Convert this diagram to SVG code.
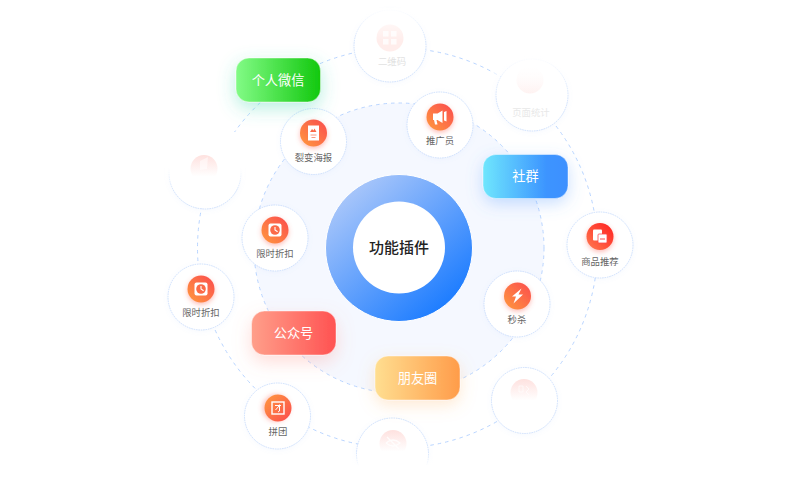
<svg xmlns="http://www.w3.org/2000/svg" xmlns:xlink="http://www.w3.org/1999/xlink" width="800" height="500" viewBox="0 0 800 500">
<style>
text{font-family:"Noto Sans CJK SC","Noto Sans",sans-serif;text-anchor:middle}
.ring{fill:none;stroke:#b9d5ff;stroke-width:1;stroke-dasharray:3.5 4}
.nc{fill:#fff;stroke:#c4d9fb;stroke-width:.8;stroke-dasharray:1.6 .8}
.lb{font-size:9.4px;fill:#666}
.lbf{font-size:9.4px;fill:#e2e2e2}
.tg{stroke:#fff;stroke-opacity:.55;stroke-width:.8}
.tt{font-size:13.2px;fill:#fff}
.w{fill:#fff}
</style>
<defs>
<linearGradient id="ringG" x1="0.15" y1="0.1" x2="0.85" y2="0.9"><stop offset="0" stop-color="#aac7fa"/><stop offset="1" stop-color="#1a7bff"/></linearGradient>
<linearGradient id="ic" x1="0" y1="1" x2="1" y2="0"><stop offset="0" stop-color="#ff9a3e"/><stop offset="1" stop-color="#fb4a4e"/></linearGradient>
<linearGradient id="ic2" x1="0" y1="1" x2="1" y2="0"><stop offset="0" stop-color="#ff7a50"/><stop offset="1" stop-color="#ff1f1f"/></linearGradient>
<linearGradient id="gWx" x1="0" y1="0" x2="1" y2="0"><stop offset="0" stop-color="#82fb86"/><stop offset="1" stop-color="#12c80e"/></linearGradient>
<linearGradient id="gSq" x1="0" y1="0" x2="1" y2="0"><stop offset="0" stop-color="#6fe6fd"/><stop offset=".75" stop-color="#3c94ff"/><stop offset="1" stop-color="#3c90ff"/></linearGradient>
<linearGradient id="gGz" x1="0" y1="0" x2="1" y2="0"><stop offset="0" stop-color="#ff9f8a"/><stop offset="1" stop-color="#ff5252"/></linearGradient>
<linearGradient id="gPy" x1="0" y1="0" x2="1" y2="0"><stop offset="0" stop-color="#ffde90"/><stop offset="1" stop-color="#ff9c4a"/></linearGradient>
<linearGradient id="fadeDown" x1="0" y1="0" x2="0" y2="1"><stop offset="0" stop-color="#fff" stop-opacity="0"/><stop offset="1" stop-color="#fff"/></linearGradient>
<linearGradient id="fadeUp" x1="0" y1="0" x2="0" y2="1"><stop offset="0" stop-color="#fff"/><stop offset="1" stop-color="#fff" stop-opacity="0"/></linearGradient>
<linearGradient id="iconFade" x1="0" y1="0" x2="0" y2="1"><stop offset="0" stop-color="#fb6a5e" stop-opacity=".2"/><stop offset=".8" stop-color="#fb6a5e" stop-opacity="0"/></linearGradient>
<linearGradient id="iconFade2" x1="0" y1="0" x2="0" y2="1"><stop offset="0" stop-color="#fb6a5e" stop-opacity="0"/><stop offset="1" stop-color="#fb6a5e" stop-opacity=".1"/></linearGradient>
<filter id="sh" x="-50%" y="-50%" width="200%" height="200%"><feDropShadow dx="0" dy="1" stdDeviation="2.5" flood-color="#7aa6f0" flood-opacity=".08"/></filter>
<filter id="icS" x="-50%" y="-50%" width="200%" height="200%"><feDropShadow dx="0" dy="2" stdDeviation="2.500" flood-color="#fb5a4a" flood-opacity=".4"/></filter>
<filter id="sG" x="-50%" y="-90%" width="200%" height="300%"><feDropShadow dx="0" dy="6" stdDeviation="9" flood-color="#3fd6b0" flood-opacity=".38"/></filter>
<filter id="sB" x="-50%" y="-90%" width="200%" height="300%"><feDropShadow dx="0" dy="5" stdDeviation="8" flood-color="#5a9cff" flood-opacity=".32"/></filter>
<filter id="sR" x="-50%" y="-90%" width="200%" height="300%"><feDropShadow dx="0" dy="7" stdDeviation="9" flood-color="#ff7a6a" flood-opacity=".26"/></filter>
<filter id="sO" x="-50%" y="-90%" width="200%" height="300%"><feDropShadow dx="0" dy="5" stdDeviation="8" flood-color="#ffb060" flood-opacity=".28"/></filter>
<g id="clock"><rect x="-6.500" y="-6.500" width="13" height="13" rx="2" class="w"/><circle r="4.800" fill="#fb6a48"/><path d="M0-3V0L2.600 1.800" fill="none" stroke="#fff" stroke-width="1.100"/></g>
</defs>
<rect width="800" height="500" fill="#fff"/>

<g id="connectors">
<circle cx="399" cy="248" r="145" fill="#f5f8ff" stroke="none"/>
<circle class="ring" cx="399" cy="248" r="145"/>
<circle class="ring" cx="397.500" cy="248" r="200"/>
</g>

<g id="core">
<circle cx="399" cy="248" r="73.500" fill="url(#ringG)" stroke="#fff" stroke-width="1"/>
<circle cx="399" cy="247.500" r="46" fill="#fff"/>
<text x="399" y="253" font-size="15px" font-weight="500" fill="#222">功能插件</text>
</g>

<g id="node-erweima">
<circle class="nc" cx="390" cy="46" r="36" filter="url(#sh)"/>
<circle cx="390" cy="38" r="13.500" fill="#fb6a5e" opacity=".12"/>
<g class="w" opacity=".8"><rect x="383" y="31" width="5.500" height="5.500"/><rect x="391" y="31" width="5.500" height="5.500"/><rect x="383" y="39" width="5.500" height="5.500"/><rect x="391" y="39" width="5.500" height="5.500"/></g>
<text class="lbf" x="392" y="65">二维码</text>
<rect x="350" y="8" width="80" height="34" fill="url(#fadeUp)"/>
</g>

<g id="node-yemian">
<circle class="nc" cx="532" cy="95" r="36" filter="url(#sh)"/>
<circle cx="530" cy="80" r="13.500" fill="url(#iconFade2)"/>
<text class="lbf" x="531" y="116" style="fill:#e8e8e8">页面统计</text>
<rect x="492" y="55" width="80" height="46" fill="url(#fadeUp)"/>
</g>

<g id="node-left-faded">
<circle class="nc" cx="205" cy="173" r="36" filter="url(#sh)"/>
<rect x="165" y="132" width="80" height="36" fill="#fff"/>
<rect x="165" y="168" width="80" height="24" fill="url(#fadeUp)"/>
<circle cx="204" cy="168.500" r="13.500" fill="url(#iconFade)"/>
<path d="M200 161l8-4-1 12-7 1z" fill="#fff" opacity=".5"/>
</g>

<g id="node-right-faded">
<circle class="nc" cx="524.500" cy="400.500" r="33" filter="url(#sh)"/>
<circle cx="524" cy="392.500" r="13.500" fill="url(#iconFade)"/>
<path d="M519 386h4v6h-4zM526 386l3 3-3 3 3 3" fill="none" stroke="#fff" stroke-width="1" opacity=".6"/>
</g>

<g id="node-bottom-faded">
<circle class="nc" cx="392.500" cy="454" r="36" filter="url(#sh)"/>
<circle cx="393" cy="443.500" r="13.500" fill="url(#iconFade)"/>
<path d="M386 443q7-6 14 0q-7 6-14 0M387 437l12 12" fill="none" stroke="#fff" stroke-width="1.300" opacity=".8"/>
<rect x="350" y="452" width="86" height="14" fill="url(#fadeDown)"/>
<rect x="350" y="466" width="86" height="34" fill="#fff"/>
</g>

<g id="node-liebian">
<circle class="nc" cx="313.500" cy="141.500" r="33" filter="url(#sh)"/>
<circle cx="313.500" cy="133" r="13.500" fill="url(#ic)" filter="url(#icS)"/>
<rect x="308" y="125.500" width="11" height="15" class="w"/>
<path d="M310 132l2-3 1.500 1.500 1-2 2 3.500z" fill="#fb6a48"/>
<path d="M310.500 135h6M311.500 137.500h4" stroke="#fb9a80" stroke-width="1"/>
<text class="lb" x="313.500" y="160.500">裂变海报</text>
</g>

<g id="node-tuiguang">
<circle class="nc" cx="440" cy="125" r="33" filter="url(#sh)"/>
<circle cx="440" cy="117" r="13.500" fill="url(#ic)" filter="url(#icS)"/>
<path d="M433 113.500h4.500l5-3v12.500l-5-3h-1l1 4.500h-2.500l-1-4.500h-1zM444 112l2.500-1v10.500l-2.500-1z" class="w"/>
<text class="lb" x="440" y="143.500">推广员</text>
</g>

<g id="node-xianshi-1">
<circle class="nc" cx="275" cy="238" r="33" filter="url(#sh)"/>
<circle cx="275" cy="230" r="13.500" fill="url(#ic)" filter="url(#icS)"/>
<use xlink:href="#clock" href="#clock" x="275" y="230"/>
<text class="lb" x="275" y="256.500">限时折扣</text>
</g>

<g id="node-xianshi-2">
<circle class="nc" cx="201" cy="297" r="33" filter="url(#sh)"/>
<circle cx="201" cy="289" r="13.500" fill="url(#ic)" filter="url(#icS)"/>
<use xlink:href="#clock" href="#clock" x="201" y="289"/>
<text class="lb" x="201" y="315.500">限时折扣</text>
</g>

<g id="node-miaosha">
<circle class="nc" cx="517" cy="304" r="33" filter="url(#sh)"/>
<circle cx="517.500" cy="296" r="13.500" fill="url(#ic)" filter="url(#icS)"/>
<path d="M521.500 288.500l-9.500 8h4l-2.500 7 9.500-9h-4.500z" class="w"/>
<text class="lb" x="517" y="322.500">秒杀</text>
</g>

<g id="node-shangpin">
<circle class="nc" cx="600" cy="245" r="33" filter="url(#sh)"/>
<circle cx="600" cy="236.500" r="13.500" fill="url(#ic2)" filter="url(#icS)"/>
<rect x="593" y="229.500" width="9" height="11" rx="1" class="w"/>
<rect x="598" y="234" width="9" height="9" rx="1" class="w" stroke="#fb4a4e" stroke-width=".8"/>
<path d="M600 239h5" stroke="#fb4a4e" stroke-width="1"/>
<text class="lb" x="600" y="264.500">商品推荐</text>
</g>

<g id="node-pintuan">
<circle class="nc" cx="277.500" cy="416" r="33" filter="url(#sh)"/>
<circle cx="278" cy="408" r="13.500" fill="url(#ic)" filter="url(#icS)" transform="rotate(90 278 408)"/>
<rect x="272" y="402" width="12" height="12" fill="none" stroke="#fff" stroke-width="1.400"/>
<path d="M275 405.500h6M279.500 404.500v6.500l-1.500 1M279 406l-3.500 4" fill="none" stroke="#fff" stroke-width="1"/>
<text class="lb" x="278" y="434.500">拼团</text>
</g>

<g id="tag-weixin">
<rect class="tg" x="236" y="58" width="84.500" height="44" rx="13" fill="url(#gWx)" filter="url(#sG)"/>
<text class="tt" x="278" y="85">个人微信</text>
</g>
<g id="tag-shequn">
<rect class="tg" x="483" y="154.500" width="85" height="44" rx="13" fill="url(#gSq)" filter="url(#sB)"/>
<text class="tt" x="525.500" y="181">社群</text>
</g>
<g id="tag-gongzhonghao">
<rect class="tg" x="251.500" y="311" width="84.500" height="44" rx="13" fill="url(#gGz)" filter="url(#sR)"/>
<text class="tt" x="293.500" y="338">公众号</text>
</g>
<g id="tag-pengyouquan">
<rect class="tg" x="375" y="356" width="85" height="44" rx="13" fill="url(#gPy)" filter="url(#sO)"/>
<text class="tt" x="417.500" y="383">朋友圈</text>
</g>
</svg>
